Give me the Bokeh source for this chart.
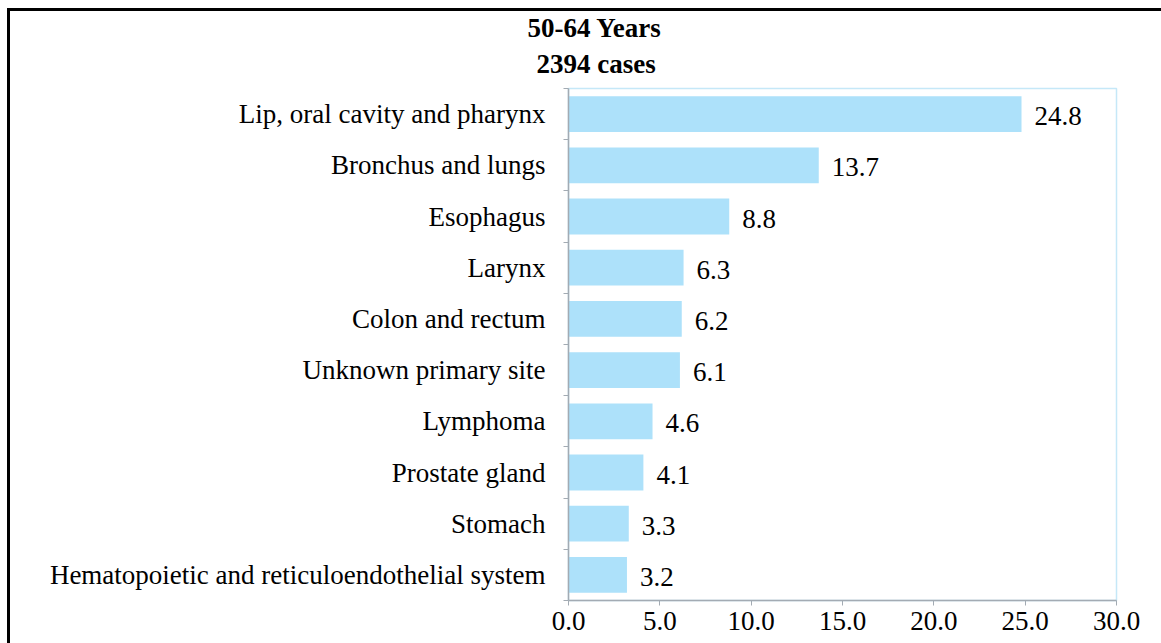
from bokeh.plotting import figure
from bokeh.models import FixedTicker, Title, ColumnDataSource, Range1d, NumeralTickFormatter
from bokeh.embed import file_html
from bokeh.resources import INLINE
from bokeh.core.properties import value

categories = [
    "Lip, oral cavity and pharynx",
    "Bronchus and lungs",
    "Esophagus",
    "Larynx",
    "Colon and rectum",
    "Unknown primary site",
    "Lymphoma",
    "Prostate gland",
    "Stomach",
    "Hematopoietic and reticuloendothelial system",
]
values = [24.8, 13.7, 8.8, 6.3, 6.2, 6.1, 4.6, 4.1, 3.3, 3.2]
x_ticks = [0, 5, 10, 15, 20, 25, 30]
title_line1 = "50-64 Years"
title_line2 = "2394 cases"

FONT = "Liberation Serif"
FS = "27px"
n = len(categories)
ypos = [n - i - 0.5 for i in range(n)]
src = ColumnDataSource(dict(cat=categories, val=values, y=ypos,
                            lab=[f"{v:.1f}" for v in values]))

p = figure(width=1161, height=643, x_range=Range1d(0, 30), y_range=Range1d(0, n),
           output_backend="svg", toolbar_location=None,
           min_border_left=568, min_border_right=45,
           min_border_top=88, min_border_bottom=43)
# transparent canvas border so the page background (outer black frame) shows
p.border_fill_color = None
p.background_fill_color = "white"
p.styles = {
    "background-color": "white",
    "background-image": "linear-gradient(#000,#000), linear-gradient(#000,#000)",
    "background-size": "3px 100%, 100% 3px",
    "background-position": "7px 8px, 7px 8px",
    "background-repeat": "no-repeat",
}

p.hbar(y="y", left=0, right="val", height=0.7, fill_color="#ADE1FA",
       line_color=None, source=src)
p.text(x="val", y="y", text="lab", x_offset=13, y_offset=2, text_baseline="middle",
       text_font=value(FONT), text_font_size=FS, text_color="black", source=src)

p.xgrid.visible = False
p.ygrid.visible = False
p.outline_line_color = "#C5E8F8"
p.outline_line_width = 1.5

axis_col = "#A3ABB3"
ya = p.yaxis[0]
ya.ticker = FixedTicker(ticks=ypos, minor_ticks=list(range(n + 1)))
ya.major_label_overrides = {y: c for y, c in zip(ypos, categories)}
ya.major_tick_line_color = None
ya.minor_tick_in = 0
ya.minor_tick_out = 5
ya.minor_tick_line_color = axis_col
ya.axis_line_color = axis_col
ya.axis_line_width = 1.5
ya.major_label_standoff = 17
ya.major_label_text_font = FONT
ya.major_label_text_font_size = FS
ya.major_label_text_color = "black"

xa = p.xaxis[0]
xa.ticker = FixedTicker(ticks=x_ticks)
xa.formatter = NumeralTickFormatter(format="0.0")
xa.major_tick_in = 0
xa.major_tick_out = 5
xa.major_tick_line_color = axis_col
xa.minor_tick_line_color = None
xa.axis_line_color = axis_col
xa.axis_line_width = 1.5
xa.major_label_standoff = 6
xa.major_label_text_font = FONT
xa.major_label_text_font_size = FS
xa.major_label_text_color = "black"

p.title.text = title_line1
p.title.align = "left"
p.title.offset = -41
p.title.text_font = FONT
p.title.text_font_size = FS
p.title.text_font_style = "bold"
p.title.text_color = "black"
try:
    p.title.standoff = -4
except Exception:
    p.title.standoff = 0

t2 = Title(text=title_line2, align="left", offset=-32, text_font=FONT,
           text_font_size=FS, text_font_style="bold", text_color="black",
           standoff=16, vertical_align="top")
p.add_layout(t2, "above")

open("out.html", "w").write(file_html(p, INLINE))
